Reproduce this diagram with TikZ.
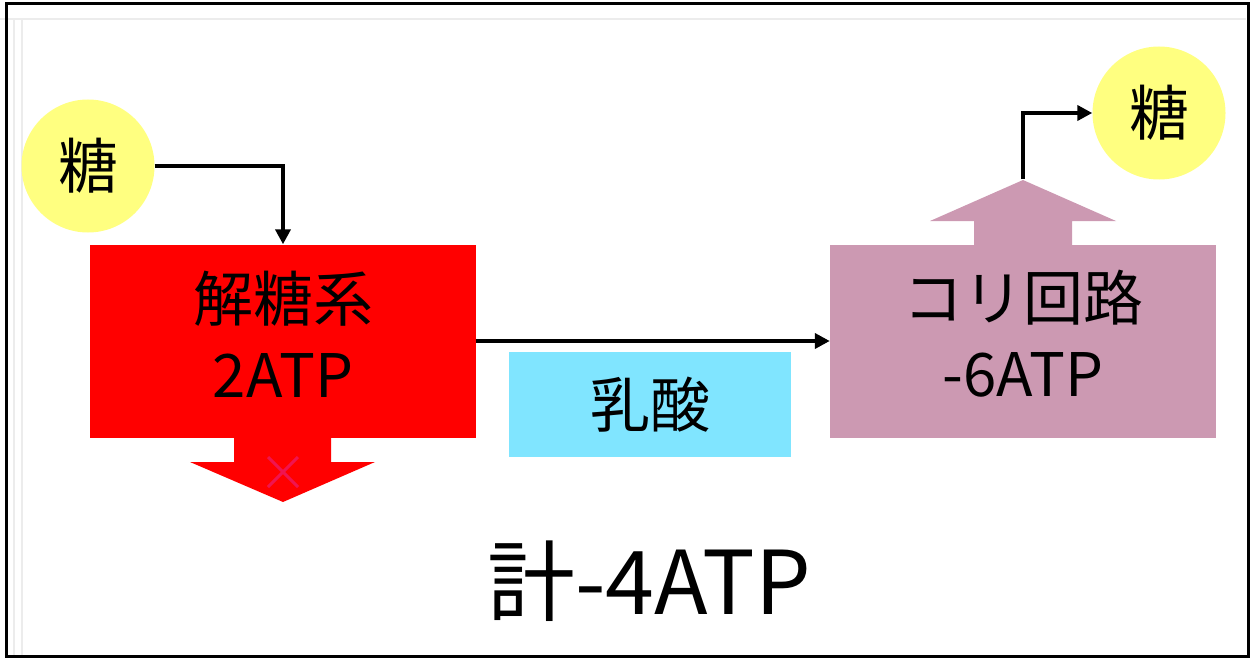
\documentclass[tikz,border=0pt]{standalone}
\usepackage{fontspec}
\setmainfont{Noto Sans CJK JP}
\usetikzlibrary{arrows.meta}
\definecolor{sugar}{RGB}{255,255,128}
\definecolor{lactic}{RGB}{128,229,255}
\definecolor{cori}{RGB}{204,153,178}
\definecolor{crossc}{RGB}{240,20,80}
\definecolor{winline}{RGB}{236,236,236}
\begin{document}
\begin{tikzpicture}[x=1pt,y=-1pt,
  sugarnode/.style={circle, fill=sugar, minimum size=133pt, inner sep=0pt, font=\fontsize{60}{60}\selectfont},
  blocknode/.style={rectangle, minimum width=386pt, minimum height=193pt, inner sep=0pt},
  label/.style={align=center, font=\fontsize{60}{76}\selectfont},
  conn/.style={line width=4pt, -{Triangle[length=15pt,width=15pt]}}]
\useasboundingbox (0,0) rectangle (1250,658);
% window lines
\draw[winline, line width=2pt] (0,19) -- (1246,19);
\draw[winline, line width=2pt] (14,19) -- (14,655);
\draw[winline, line width=2pt] (22,19) -- (22,655);
\draw[line width=3pt] (6,4) rectangle (1248,656);
% nodes
\node[sugarnode] (s1) at (88,166) {糖};
\node[sugarnode] (s2) at (1159,113) {糖};
\node[blocknode, fill=red] (g) at (283,341) {};
\node[label] (gt) at (283,334) {解糖系\\2ATP};
\node[blocknode, fill=cori] (c) at (1023,341) {};
\node[label] (ct) at (1023,334) {コリ回路\\-6ATP};
\node[rectangle, fill=lactic, minimum width=282pt, minimum height=105pt, inner sep=0pt, font=\fontsize{60}{60}\selectfont] (l) at (650,404.5) {乳酸};
\node[font=\fontsize{88}{88}\selectfont] (tot) at (649,581) {計-4ATP};
% block arrows
\fill[red] (234,436) -- (234,462) -- (190,462) -- (283,502) -- (375,462) -- (331,462) -- (331,436) -- cycle;
\draw[crossc, line width=3pt] (268,457) -- (298,487) (298,457) -- (268,487);
\fill[cori] (974,246) -- (974,221) -- (930,221) -- (1023,180) -- (1116,221) -- (1072,221) -- (1072,246) -- cycle;
% connectors
\coordinate (ut) at (1023,179);
\draw[conn] (s1.east) -| (g.north);
\draw[conn] (g.east) -- (c.west);
\draw[conn] (ut) |- (s2.west);
\end{tikzpicture}
\end{document}
